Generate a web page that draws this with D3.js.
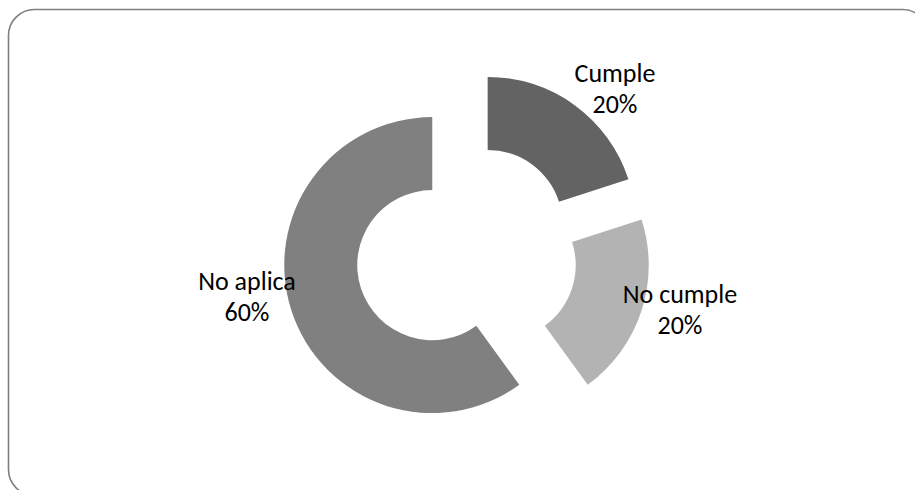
<!DOCTYPE html>
<html>
<head>
<meta charset="utf-8">
<script src="https://cdn.jsdelivr.net/npm/d3@7"></script>
<style>
  html, body { margin: 0; padding: 0; background: #fff; }
  svg { display: block; }
</style>
</head>
<body>
<svg id="chart" width="915" height="490"></svg>
<script>
// Data
const categories = ["Cumple", "No cumple", "No aplica"];
const values = [20, 20, 60];
const percentLabels = ["20%", "20%", "60%"];
const colors = ["#636363", "#b3b3b3", "#808080"];

// Layout
const W = 915, H = 490;
const cx = 466.5, cy = 254;
const outerR = 148, innerR = 75;
const explode = 36;
// label anchor centres (x, first-line y)
const labelPos = [[615, 73], [680, 294], [247, 281]];

const svg = d3.select("#chart");

// frame
svg.append("rect")
  .attr("x", 8.5).attr("y", 9.5)
  .attr("width", 920).attr("height", 486)
  .attr("rx", 26).attr("ry", 26)
  .attr("fill", "#fff")
  .attr("stroke", "#7f7f7f")
  .attr("stroke-width", 1.6);

const pie = d3.pie().sort(null).value(d => d);
const arcs = pie(values);
const arc = d3.arc().innerRadius(innerR).outerRadius(outerR);

const g = svg.append("g").attr("transform", `translate(${cx},${cy})`);

g.selectAll("path.slice")
  .data(arcs)
  .join("path")
  .attr("class", "slice")
  .attr("fill", (d, i) => colors[i])
  .attr("transform", d => {
    const a = (d.startAngle + d.endAngle) / 2;
    return `translate(${Math.sin(a) * explode},${-Math.cos(a) * explode})`;
  })
  .attr("d", arc);

const font = "Carlito, Lato, 'Liberation Sans', sans-serif";
const labels = svg.append("g");
categories.forEach((c, i) => {
  const [x, y] = labelPos[i];
  const t = labels.append("text")
    .attr("text-anchor", "middle")
    .attr("font-family", font)
    .attr("font-size", 26)
    .attr("fill", "#000");
  t.append("tspan").attr("x", x).attr("y", y + 9).text(c);
  t.append("tspan").attr("x", x).attr("y", y + 40).text(percentLabels[i]);
});
</script>
</body>
</html>
